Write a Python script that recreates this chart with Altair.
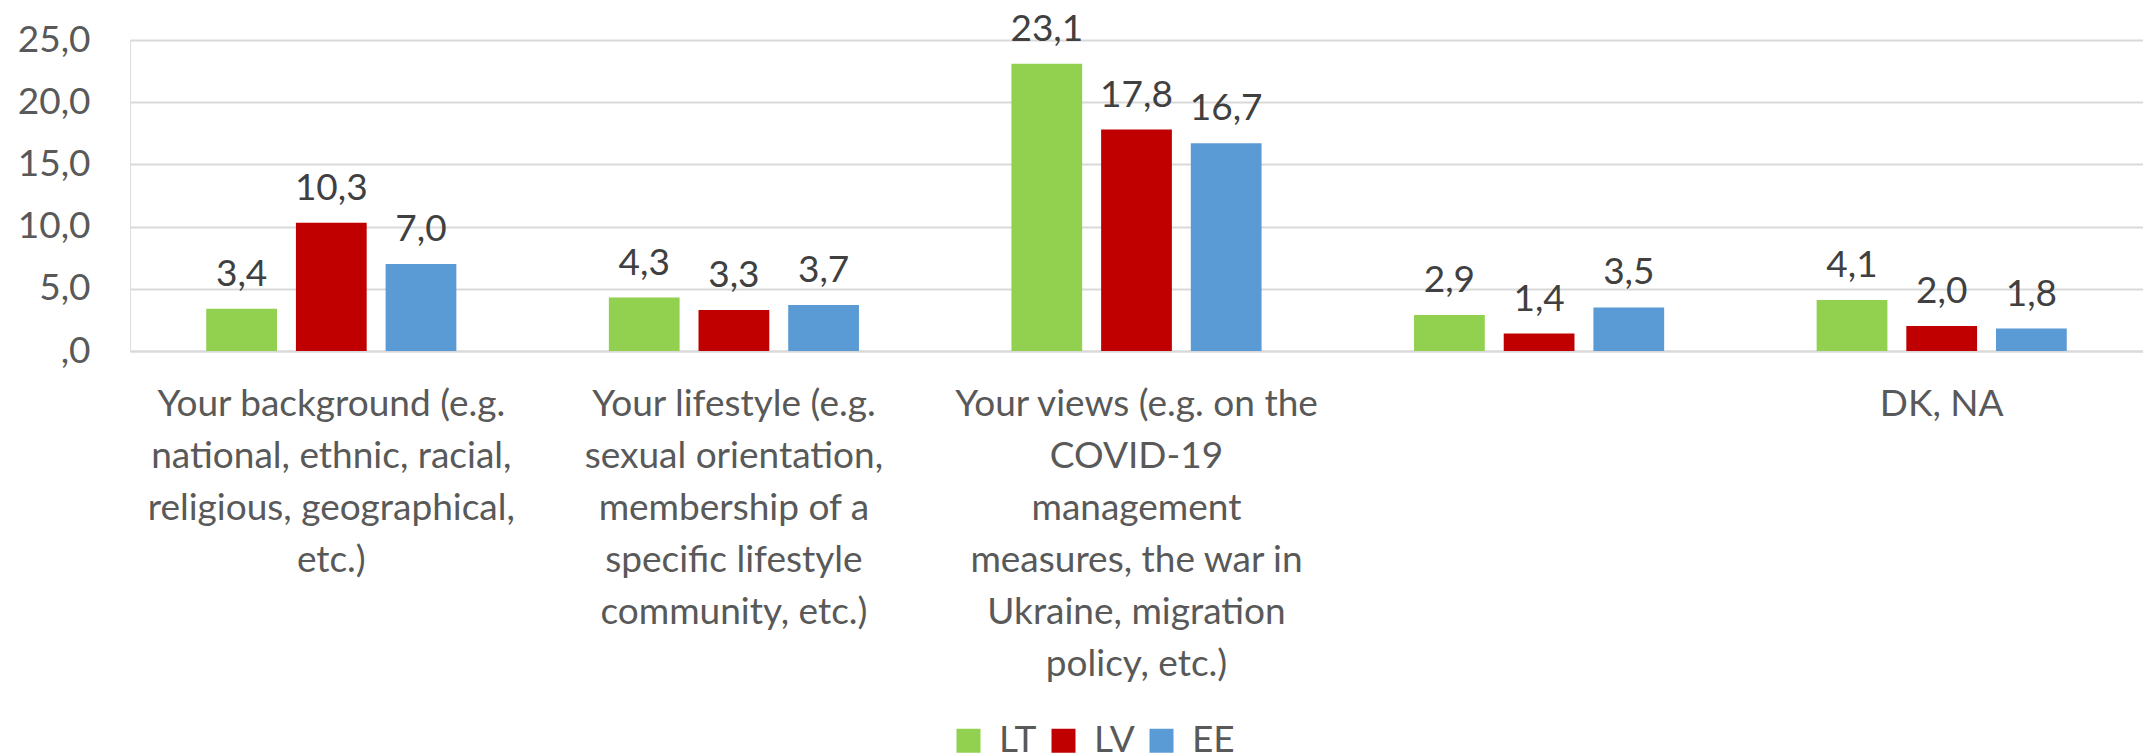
import altair as alt
import pandas as pd

categories = [
    "Your background (e.g.\nnational, ethnic, racial,\nreligious, geographical,\netc.)",
    "Your lifestyle (e.g.\nsexual orientation,\nmembership of a\nspecific lifestyle\ncommunity, etc.)",
    "Your views (e.g. on the\nCOVID-19\nmanagement\nmeasures, the war in\nUkraine, migration\npolicy, etc.)",
    " ",
    "DK, NA",
]
series = ["LT", "LV", "EE"]
LT = [3.4, 4.3, 23.1, 2.9, 4.1]
LV = [10.3, 3.3, 17.8, 1.4, 2.0]
EE = [7.0, 3.7, 16.7, 3.5, 1.8]
colors = ["#92D050", "#C00000", "#5B9BD5"]
y_ticks = [0, 5, 10, 15, 20, 25]

rows = []
for name, vals in zip(series, [LT, LV, EE]):
    for c, v in zip(categories, vals):
        rows.append({"cat": c, "country": name, "value": v})
df = pd.DataFrame(rows)

FONT = "Lato"
FS = 37

x = alt.X(
    "cat:N",
    sort=categories,
    scale=alt.Scale(paddingInner=0, paddingOuter=0),
    axis=alt.Axis(
        title=None,
        labelExpr="split(datum.label, '\\n')",
        labelAngle=0,
        labelFont=FONT,
        labelFontSize=FS,
        labelColor="#595959",
        labelLineHeight=52,
        labelPadding=35,
        labelLimit=0,
        labelBaseline="top",
        ticks=False,
        domain=True,
        domainColor="#D9D9D9",
        domainWidth=2,
        grid=False,
    ),
)
xoff = alt.XOffset(
    "country:N",
    sort=series,
    scale=alt.Scale(paddingInner=0.211, paddingOuter=0.85),
)
y = alt.Y(
    "value:Q",
    scale=alt.Scale(domain=[0, 25], nice=False, zero=True),
    axis=alt.Axis(
        title=None,
        values=y_ticks,
        labelExpr="datum.value == 0 ? ',0' : replace(format(datum.value, '.1f'), '.', ',')",
        labelFont=FONT,
        labelFontSize=FS,
        labelColor="#595959",
        labelPadding=40,
        ticks=False,
        domain=False,
        grid=True,
        gridColor="#D9D9D9",
        gridWidth=2,
    ),
)

bars = alt.Chart(df).mark_bar().encode(
    x=x,
    xOffset=xoff,
    y=y,
    color=alt.Color(
        "country:N",
        sort=series,
        scale=alt.Scale(domain=series, range=colors),
        legend=alt.Legend(
            title=None,
            orient="none",
            legendX=820,
            legendY=682,
            direction="horizontal",
            symbolType="square",
            symbolSize=576,
            symbolStrokeWidth=0,
            labelFont=FONT,
            labelFontSize=FS,
            labelColor="#595959",
            labelOffset=12,
            columnPadding=8,
        ),
    ),
)

labels = alt.Chart(df).transform_calculate(
    lbl="replace(format(datum.value, '.1f'), '.', ',')"
).mark_text(
    font=FONT, fontSize=FS, color="#404040", baseline="alphabetic", dy=-23
).encode(
    x=x,
    xOffset=xoff,
    y=y,
    text="lbl:N",
)

chart = alt.layer(bars, labels).properties(
    width=2013,
    height=311,
    padding={"left": 122, "top": 32, "right": 0, "bottom": 405},
    autosize=alt.AutoSizeParams(type="none"),
).configure_view(stroke=None).configure(font=FONT)

chart.save("out.html", embed_options={"renderer": "svg", "actions": False})
